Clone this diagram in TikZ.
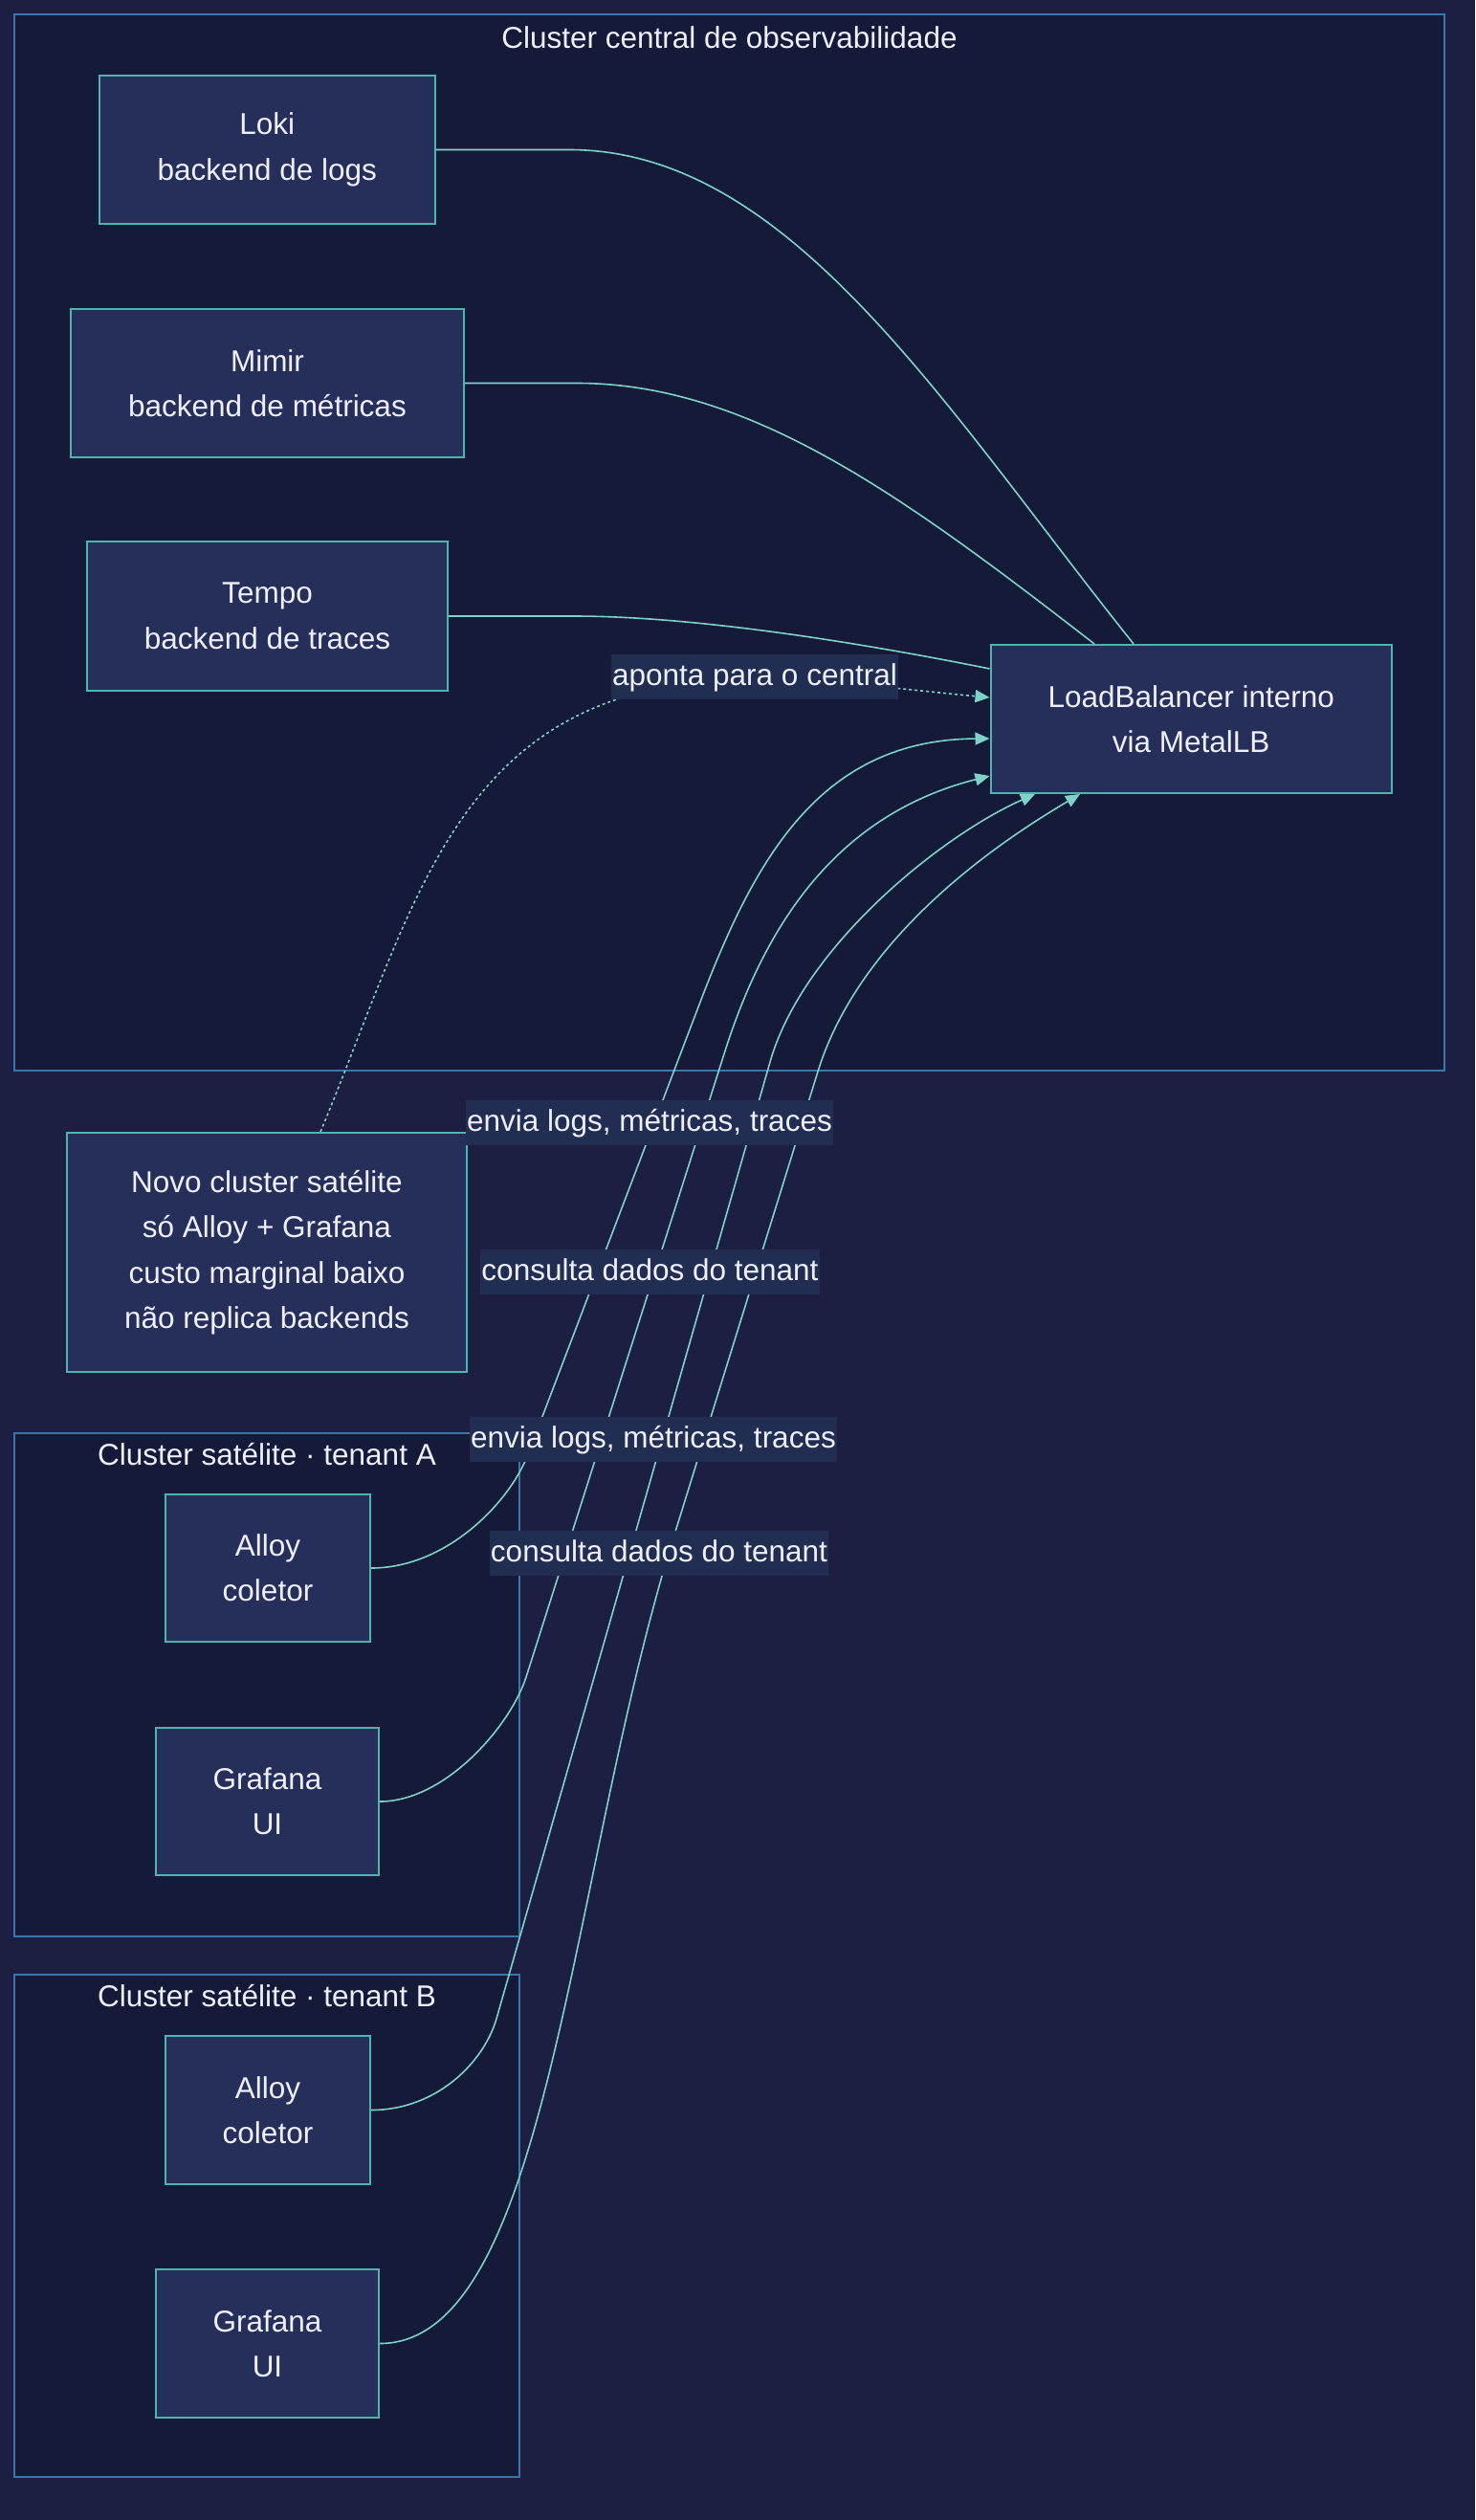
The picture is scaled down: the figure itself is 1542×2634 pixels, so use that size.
\documentclass[tikz,border=0pt]{standalone}
\usepackage{fontspec}
\setmainfont{Liberation Sans}
\usetikzlibrary{arrows.meta,calc}
\definecolor{pagebg}{HTML}{1D1F42}
\definecolor{clfill}{HTML}{141A38}
\definecolor{cldraw}{HTML}{3A76AA}
\definecolor{ndfill}{HTML}{262E5A}
\definecolor{nddraw}{HTML}{4DB6AC}
\definecolor{edgec}{HTML}{7DD3C8}
\definecolor{lblbg}{HTML}{222D52}
\definecolor{txt}{HTML}{EEF0FF}
\newcommand{\dfont}{\fontsize{15.75}{23.7}\selectfont}
\begin{document}
\begin{tikzpicture}[x=0.5pt,y=-0.5pt,
  box/.style={draw=nddraw, fill=ndfill, line width=1pt, text=txt, align=center, font=\dfont, inner sep=0pt},
  cluster/.style={draw=cldraw, fill=clfill, line width=1pt, inner sep=0pt},
  ctitle/.style={text=txt, font=\dfont, anchor=base, inner sep=0pt},
  lbl/.style={fill=lblbg, text=txt, font=\dfont, inner xsep=0.5pt, inner ysep=0pt, minimum height=23.5pt, text height=12.2pt, text depth=3pt},
  edge/.style={draw=edgec, line width=0.8pt},
  arr/.style={edge, -{Triangle[length=7.5pt,width=6.5pt]}},
  dotedge/.style={arr, dash pattern=on 1.5pt off 1.5pt}
]
% page
\fill[pagebg] (0,0) rectangle (1542,2634);
\useasboundingbox (0,0) rectangle (1542,2634);

% clusters
\node[cluster, minimum width=747.5pt, minimum height=552pt] (central) at (762.5,567) {};
\node[ctitle] (centralT) at (762.5,50) {Cluster central de observabilidade};
\node[cluster, minimum width=264pt, minimum height=263pt] (clA) at (279,1760.5) {};
\node[ctitle] (clAT) at (279,1531) {Cluster satélite · tenant A};
\node[cluster, minimum width=264pt, minimum height=262.5pt] (clB) at (279,2326.5) {};
\node[ctitle] (clBT) at (279,2097) {Cluster satélite · tenant B};

% nodes
\node[box, minimum width=175.3pt, minimum height=77.5pt] (loki) at (279.3,156.5) {Loki\\backend de logs};
\node[box, minimum width=205.5pt, minimum height=77.5pt] (mimir) at (279.5,400.5) {Mimir\\backend de métricas};
\node[box, minimum width=188.5pt, minimum height=78pt] (tempo) at (279.5,644) {Tempo\\backend de traces};
\node[box, minimum width=209.75pt, minimum height=77.5pt] (lb) at (1245.25,751.5) {LoadBalancer interno\\via MetalLB};
\node[box, minimum width=209pt, minimum height=125pt] (novo) at (279,1309) {Novo cluster satélite\\só Alloy + Grafana\\custo marginal baixo\\não replica backends};
\node[box, minimum width=107pt, minimum height=77pt] (aA) at (280,1639) {Alloy\\coletor};
\node[box, minimum width=116.5pt, minimum height=77pt] (gA) at (279.5,1883) {Grafana\\UI};
\node[box, minimum width=107pt, minimum height=77.5pt] (aB) at (280,2205.5) {Alloy\\coletor};
\node[box, minimum width=116.5pt, minimum height=77.5pt] (gB) at (279.5,2449.5) {Grafana\\UI};

% connector end points on the load balancer
\coordinate (eLoki) at ($(lb.north west)+(150.5,0)$);
\coordinate (eMimir) at ($(lb.north west)+(109.5,0)$);
\coordinate (eTempo) at ($(lb.north west)+(0,26)$);
\coordinate (eNovo) at ($(lb.north west)+(0,56)$);
\coordinate (eAA) at ($(lb.north west)+(0,99)$);
\coordinate (eGA) at ($(lb.north west)+(0,138)$);
\coordinate (eAB) at ($(lb.south west)+(47.5,0)$);
\coordinate (eGB) at ($(lb.south west)+(94.5,0)$);
\coordinate (sNovo) at ($(novo.north)+(56,0)$);

% backend links
\draw[edge] (loki.east) -- (595,156.5) .. controls (825,156.5) and (986,424) .. (eLoki);
\draw[edge] (mimir.east) -- (603,400.5) .. controls (783,400.5) and (944,518) .. (eMimir);
\draw[edge] (tempo.east) -- (600,644) .. controls (720,644) and (885.5,669) .. (eTempo);

% dotted link
\draw[dotedge] (sNovo) .. controls (439,934) and (479,710) .. (789,710) .. controls (869,710) and (956,722) .. (eNovo);

% satellite links
\draw[arr] (aA.east) .. controls (467,1639) and (533,1570) .. (552,1520) -- (731,1050) .. controls (788,900) and (856,773) .. (eAA);
\draw[arr] (gA.east) .. controls (466,1883) and (534,1803) .. (550,1753) -- (757.5,1100) .. controls (805,950) and (886,848.75) .. (eGA);
\draw[arr] (aB.east) .. controls (457,2205.5) and (506,2155) .. (519,2110) -- (805,1110) .. controls (839.3,990) and (983,874) .. (eAB);
\draw[arr] (gB.east) .. controls (571,2449.5) and (594,1973.5) .. (699,1623.5) -- (855,1120) .. controls (901.5,970) and (1060,871) .. (eGB);

% edge labels
\node[lbl] (l0) at (789,707.5) {aponta para o central};
\node[lbl] (l1) at (679,1173.5) {envia logs, métricas, traces};
\node[lbl] (l2) at (679.5,1329.5) {consulta dados do tenant};
\node[lbl] (l3) at (683,1504) {envia logs, métricas, traces};
\node[lbl] (l4) at (689,1623.5) {consulta dados do tenant};
\end{tikzpicture}
\end{document}
